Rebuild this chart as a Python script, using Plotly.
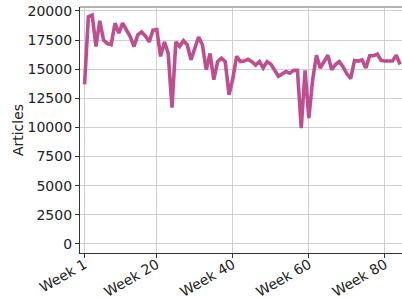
import plotly.graph_objects as go

weeks = list(range(1, 85))
articles = [
    13700, 19500, 19650, 16950, 19150, 17500, 17200, 17100, 18950, 18100,
    18950, 18400, 17800, 16950, 17950, 18200, 17850, 17350, 18350, 18400,
    16100, 17350, 16350, 11700, 17350, 16950, 17450, 17100, 15800, 16800,
    17750, 17100, 14950, 16350, 14100, 15650, 15950, 15650, 12800, 14200,
    16100, 15650, 15700, 15850, 15650, 15350, 15650, 15100, 15650, 15450,
    14900, 14400, 14600, 14800, 14650, 14900, 14900, 9950, 14900, 10800,
    14100, 16200, 15100, 15600, 16200, 14950, 15400, 15650, 15200, 14600,
    14200, 15750, 15700, 15800, 15100, 16150, 16150, 16300, 15750, 15700,
    15700, 15700, 16200, 15400,
]
tick_vals = [1, 20, 40, 60, 80]
tick_text = ["Week 1", "Week 20", "Week 40", "Week 60", "Week 80"]
y_ticks = [0, 2500, 5000, 7500, 10000, 12500, 15000, 17500, 20000]

fig = go.Figure()
fig.add_trace(go.Scatter(
    x=weeks, y=articles, mode="lines",
    line=dict(color="#bd4f91", width=3.6),
    hoverinfo="skip",
))

font = dict(family="DejaVu Sans", size=14, color="#222222")
fig.update_layout(
    width=402, height=298,
    margin=dict(l=80, r=0, t=7, b=45),
    paper_bgcolor="white", plot_bgcolor="white",
    showlegend=False,
    font=font,
    xaxis=dict(
        range=[-0.2, 84.5],
        tickmode="array", tickvals=tick_vals, ticktext=tick_text,
        tickangle=-30, automargin=False, ticklabelstandoff=-7,
        showgrid=True, gridcolor="#cfcfcf", gridwidth=1,
        showline=True, linecolor="#333333", linewidth=1.2,
        ticks="outside", ticklen=4, tickcolor="#333333",
        zeroline=False, tickfont=font,
    ),
    yaxis=dict(
        range=[-780, 20340], automargin=False,
        tickmode="array", tickvals=y_ticks,
        ticktext=[str(v) for v in y_ticks],
        showgrid=True, gridcolor="#cfcfcf", gridwidth=1,
        showline=True, linecolor="#333333", linewidth=1.2,
        ticks="outside", ticklen=4, tickcolor="#333333",
        zeroline=False, tickfont=font,
        title=dict(text="Articles", font=font, standoff=0),
    ),
    shapes=[dict(type="line", xref="paper", yref="paper",
                 x0=0, x1=1, y0=1, y1=1,
                 line=dict(color="#999999", width=1.5))],
)

fig.write_html(
    "out.html",
    config={"displayModeBar": False},
    post_script="document.body.style.margin='0';document.body.style.overflow='hidden';",
)
